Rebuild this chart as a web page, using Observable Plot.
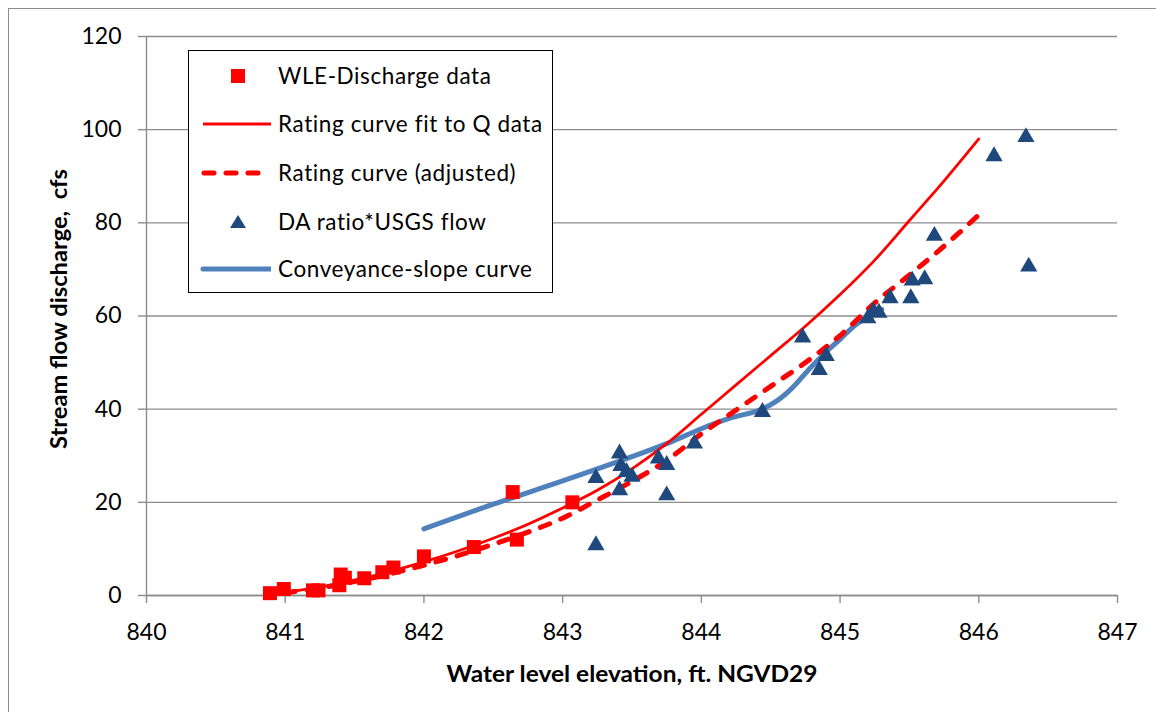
<!DOCTYPE html>
<html>
<head>
<meta charset="utf-8">
<script src="https://cdn.jsdelivr.net/npm/d3@7"></script>
<script src="https://cdn.jsdelivr.net/npm/@observablehq/plot@0.6"></script>
<style>
  html, body { margin: 0; padding: 0; background: #fff; }
  #wrap { position: relative; width: 1156px; height: 712px; overflow: hidden; font-family: Lato, "Open Sans", sans-serif; }
  #border { position: absolute; left: 8px; top: 8px; width: 1300px; height: 900px; border: 1.5px solid #8c8c8c; pointer-events: none; }
  #legend { position: absolute; left: 188px; top: 50px; width: 363px; height: 241px; border: 1.3px solid #000; background: #fff; }
  .row { position: absolute; left: 0; height: 30px; width: 100%; }
  .row svg { position: absolute; left: 10px; top: 0; }
  .row span { position: absolute; left: 89px; top: 0; line-height: 30px; font-size: 22.5px; letter-spacing: 0.6px; color: #000; white-space: nowrap; }
</style>
</head>
<body>
<div id="wrap">
  <div id="chart"></div>
  <div id="border"></div>
  <div id="legend"></div>
</div>
<script>
// ---- Data ----
const wleX = [840.89, 840.99, 841.20, 841.24, 841.39, 841.40, 841.43, 841.57, 841.70, 841.78, 842.00, 842.36, 842.64, 842.67, 843.07];
const wleQ = [0.5, 1.4, 1.1, 1.1, 2.2, 4.5, 3.8, 3.7, 5.0, 6.0, 8.4, 10.4, 22.2, 12.0, 20.0];

const fitX = [840.9, 841.0, 841.25, 841.5, 841.75, 842.0, 842.25, 842.5, 842.75, 843.0, 843.25, 843.5, 843.75, 844.0, 844.25, 844.5, 844.75, 845.0, 845.25, 845.5, 845.75, 846.0];
const fitQ = [0.3, 0.7, 1.8, 3.3, 5.1, 7.2, 9.6, 12.3, 15.3, 18.8, 22.6, 27.2, 32.6, 38.9, 45.2, 51.5, 57.8, 64.6, 72.0, 80.5, 89.0, 98.0];

const adjX = [841.0, 841.25, 841.5, 841.75, 842.0, 842.25, 842.5, 842.75, 843.0, 843.25, 843.5, 843.75, 844.0, 844.25, 844.5, 844.75, 845.0, 845.25, 845.5, 845.75, 846.0];
const adjQ = [0.6, 1.6, 3.0, 4.6, 6.5, 8.6, 11.0, 13.6, 16.6, 20.5, 24.5, 29.0, 34.7, 39.8, 44.9, 50.0, 55.8, 62.8, 68.8, 75.0, 81.7];

const daX = [843.24, 843.24, 843.41, 843.41, 843.42, 843.46, 843.50, 843.69, 843.75, 843.75, 843.95, 844.44, 844.73, 844.85, 844.90, 845.20, 845.24, 845.28, 845.36, 845.51, 845.52, 845.61, 845.68, 846.11, 846.34, 846.36];
const daQ = [10.8, 25.2, 30.5, 22.6, 27.8, 26.5, 25.5, 29.4, 28.0, 21.5, 32.6, 39.4, 55.4, 48.4, 51.4, 59.5, 61.0, 60.7, 63.8, 63.8, 67.6, 67.9, 77.2, 94.3, 98.4, 70.6];

const convX = [842.0, 842.5, 843.0, 843.5, 843.75, 844.0, 844.2, 844.42, 844.55, 844.65, 844.79, 844.91, 845.0, 845.12, 845.3];
const convQ = [14.3, 19.6, 24.6, 29.8, 32.6, 35.8, 38.0, 39.8, 41.9, 44.4, 49.0, 52.6, 55.0, 58.3, 61.4];

const xTicks = [840, 841, 842, 843, 844, 845, 846, 847];
const yTicks = [0, 20, 40, 60, 80, 100, 120];

const xTitle = "Water level elevation, ft. NGVD29";
const yTitle = "Stream flow discharge,  cfs";

const legendItems = ["WLE-Discharge data", "Rating curve fit to Q data", "Rating curve (adjusted)", "DA ratio*USGS flow", "Conveyance-slope curve"];

// ---- Colors ----
const RED = "#ff0000", NAVY = "#1f497d", BLUE = "#4f81bd", GRID = "#8c8c8c";

const zip = (xs, ys) => xs.map((x, i) => ({x, y: ys[i]}));

const chart = Plot.plot({
  width: 1156,
  height: 712,
  marginLeft: 146,
  marginRight: 39,
  marginTop: 36,
  marginBottom: 117,
  style: {fontFamily: "Lato, 'Open Sans', sans-serif", background: "transparent"},
  x: {domain: [840, 847], ticks: xTicks},
  y: {domain: [0, 120], ticks: yTicks},
  marks: [
    Plot.gridY(yTicks, {stroke: GRID, strokeOpacity: 1, strokeWidth: 1.4}),
    Plot.ruleX([840], {stroke: GRID, strokeWidth: 1.4}),
    Plot.ruleY([0], {stroke: GRID, strokeWidth: 1.4}),
    Plot.axisY(yTicks, {tickSize: 8, tickPadding: 17, stroke: GRID, strokeWidth: 1.4, fontSize: 23, fill: "#000", label: null}),
    Plot.axisX(xTicks, {tickSize: 8, tickPadding: 20, stroke: GRID, strokeWidth: 1.4, fontSize: 23, fill: "#000", label: null, tickFormat: d => String(d)}),
    Plot.line(zip(convX, convQ), {x: "x", y: "y", stroke: BLUE, strokeWidth: 5, curve: "catmull-rom", strokeLinecap: "round"}),
    Plot.line(zip(fitX, fitQ), {x: "x", y: "y", stroke: RED, strokeWidth: 2.8, curve: "catmull-rom"}),
    Plot.line(zip(adjX, adjQ), {x: "x", y: "y", stroke: RED, strokeWidth: 5, curve: "catmull-rom", strokeDasharray: "10,12", strokeLinecap: "round"}),
    Plot.dot(zip(wleX, wleQ), {x: "x", y: "y", symbol: "square", r: 7.9, fill: RED, stroke: "none"}),
    Plot.dot(zip(daX, daQ), {x: "x", y: "y", symbol: "triangle", r: 6.4, fill: NAVY, stroke: "none"}),
    Plot.text([xTitle], {frameAnchor: "bottom", text: d => d, dy: 79, fontSize: 22, fontWeight: "bold", fill: "#000", lineAnchor: "middle", textAnchor: "middle"}),
    Plot.text([yTitle], {frameAnchor: "left", text: d => d, dx: -87, dy: -7, rotate: -90, fontSize: 22, fontWeight: "bold", fill: "#000", lineAnchor: "middle", textAnchor: "middle"})
  ]
});
document.getElementById("chart").appendChild(chart);

// stretch axis titles to the reference's measured widths
chart.querySelectorAll("text").forEach(t => {
  if (t.textContent === xTitle) { t.setAttribute("textLength", 371); t.setAttribute("lengthAdjust", "spacingAndGlyphs"); }
  if (t.textContent === yTitle) { t.setAttribute("textLength", 280); t.setAttribute("lengthAdjust", "spacingAndGlyphs"); }
});

// ---- Legend ----
const legend = document.getElementById("legend");
const rowTops = [10, 58, 107, 156, 203];
const symbols = [
  `<svg width="72" height="30"><rect x="32" y="8" width="14" height="14" fill="${RED}"/></svg>`,
  `<svg width="72" height="30"><line x1="4" y1="15" x2="72" y2="15" stroke="${RED}" stroke-width="2.8"/></svg>`,
  `<svg width="72" height="30"><line x1="5" y1="15" x2="70" y2="15" stroke="${RED}" stroke-width="5" stroke-dasharray="10,12" stroke-linecap="round"/></svg>`,
  `<svg width="72" height="30"><path d="M39,8 L47,21 L31,21 Z" fill="${NAVY}"/></svg>`,
  `<svg width="72" height="30"><line x1="4" y1="15" x2="72" y2="15" stroke="${BLUE}" stroke-width="5" stroke-linecap="round"/></svg>`
];
legendItems.forEach((label, i) => {
  const row = document.createElement("div");
  row.className = "row";
  row.style.top = rowTops[i] + "px";
  row.innerHTML = symbols[i] + `<span>${label}</span>`;
  legend.appendChild(row);
});
</script>
</body>
</html>
